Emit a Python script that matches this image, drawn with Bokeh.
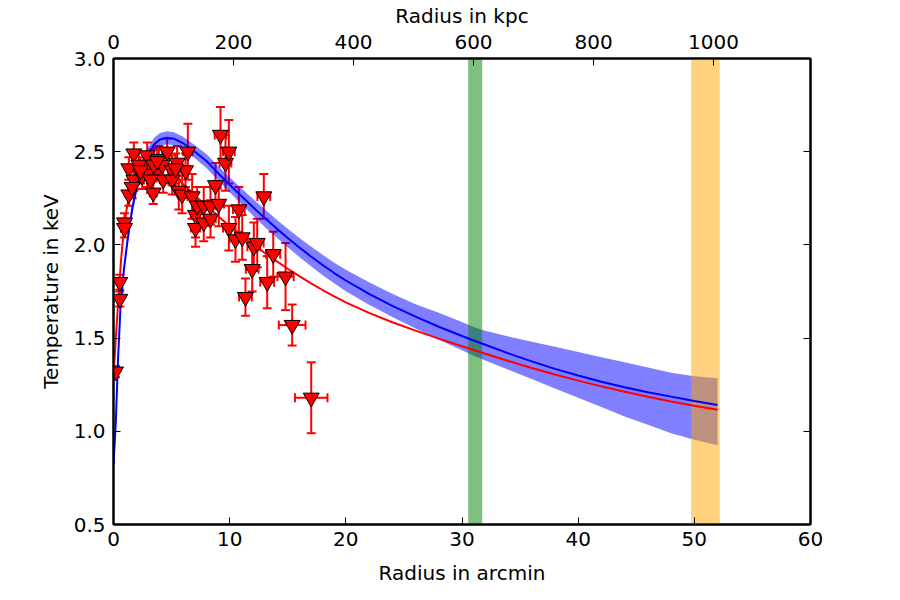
from bokeh.plotting import figure
from bokeh.models import (Range1d, LinearAxis, FixedTicker, ColumnDataSource,
                          Whisker, TeeHead, CustomJSTickFormatter)
from bokeh.embed import file_html
from bokeh.resources import INLINE

# ---------------- data ----------------
r_arcmin = [0.17, 0.54, 0.54, 0.95, 0.95, 1.32, 1.32, 1.75, 1.75, 2.18,
            2.47, 2.90, 2.90, 3.42, 3.47, 3.90, 4.19, 4.28, 4.62, 5.05,
            5.05, 5.48, 5.62, 5.91, 6.20, 6.40, 6.77, 7.06, 7.20, 7.06,
            7.77, 7.77, 8.35, 8.35, 8.78, 9.06, 9.21, 9.64, 9.93, 9.93,
            10.50, 10.79, 11.08, 12.08, 12.37, 11.94, 12.94, 11.36, 13.23, 13.75,
            14.81, 15.38, 17.02, 1.61, 2.32, 3.76, 5.34, 3.18]
temp_kev = [1.32, 1.80, 1.71, 2.12, 2.09, 2.27, 2.41, 2.49, 2.35, 2.43,
            2.37, 2.38, 2.48, 2.28, 2.43, 2.46, 2.43, 2.35, 2.50, 2.40,
            2.35, 2.44, 2.29, 2.27, 2.40, 2.50, 2.26, 2.16, 2.21, 2.09,
            2.12, 2.21, 2.21, 2.14, 2.32, 2.22, 2.59, 2.44, 2.50, 2.09,
            2.03, 2.19, 2.04, 1.99, 2.01, 1.87, 2.26, 1.72, 1.80, 1.95,
            1.83, 1.57, 1.18, 2.31, 2.40, 2.45, 2.41, 2.35]
r_err = [0.10, 0.15, 0.15, 0.20, 0.20, 0.25, 0.25, 0.30, 0.30, 0.30,
         0.30, 0.30, 0.30, 0.30, 0.30, 0.30, 0.30, 0.30, 0.30, 0.35,
         0.35, 0.35, 0.35, 0.35, 0.35, 0.40, 0.40, 0.40, 0.40, 0.40,
         0.40, 0.40, 0.45, 0.45, 0.45, 0.45, 0.50, 0.50, 0.50, 0.50,
         0.50, 0.50, 0.50, 0.55, 0.55, 0.55, 0.55, 0.55, 0.60, 0.60,
         0.70, 1.15, 1.40, 0.30, 0.30, 0.30, 0.35, 0.30]
t_err = [0.03, 0.04, 0.04, 0.05, 0.05, 0.06, 0.06, 0.06, 0.06, 0.07,
         0.07, 0.07, 0.07, 0.06, 0.08, 0.07, 0.08, 0.07, 0.07, 0.08,
         0.08, 0.09, 0.10, 0.10, 0.09, 0.15, 0.12, 0.12, 0.10, 0.10,
         0.10, 0.10, 0.10, 0.10, 0.12, 0.12, 0.15, 0.15, 0.17, 0.12,
         0.12, 0.12, 0.12, 0.13, 0.13, 0.12, 0.12, 0.10, 0.14, 0.12,
         0.18, 0.11, 0.19, 0.06, 0.07, 0.07, 0.08, 0.07]

# model curve with uncertainty band
model_r = [0.0, 0.2, 0.4, 0.6, 0.9, 1.2, 1.6, 2.0, 2.5, 3.0, 3.5, 4.0, 4.6,
           5.2, 6.0, 7.0, 8.0, 9.0, 10.0, 11.0, 12.0, 13.0, 14.0, 15.0, 16.0,
           17.0, 18.0, 19.0, 20.0, 22.0, 24.0, 26.0, 28.0, 30.0, 31.0, 32.0,
           34.0, 36.0, 38.0, 40.0, 42.0, 44.0, 46.0, 48.0, 50.0, 52.0]
model_t = [0.82, 1.05, 1.40, 1.66, 1.87, 2.02, 2.19, 2.31, 2.42, 2.49, 2.54,
           2.565, 2.575, 2.57, 2.545, 2.50, 2.45, 2.385, 2.323, 2.262, 2.203,
           2.145, 2.09, 2.037, 1.986, 1.938, 1.892, 1.849, 1.809, 1.737, 1.673,
           1.615, 1.561, 1.511, 1.487, 1.464, 1.418, 1.375, 1.335, 1.299,
           1.266, 1.236, 1.21, 1.186, 1.163, 1.141]
model_lo = [0.80, 1.03, 1.38, 1.635, 1.84, 1.99, 2.16, 2.28, 2.385, 2.455,
            2.505, 2.53, 2.54, 2.535, 2.51, 2.465, 2.413, 2.347, 2.283, 2.22,
            2.158, 2.098, 2.042, 1.987, 1.935, 1.886, 1.837, 1.794, 1.752,
            1.679, 1.613, 1.552, 1.491, 1.435, 1.405, 1.38, 1.33, 1.28, 1.23,
            1.18, 1.13, 1.08, 1.035, 0.99, 0.955, 0.925]
model_hi = [0.84, 1.07, 1.42, 1.685, 1.90, 2.05, 2.22, 2.34, 2.455, 2.525,
            2.575, 2.60, 2.61, 2.605, 2.58, 2.535, 2.487, 2.423, 2.363, 2.304,
            2.248, 2.192, 2.138, 2.087, 2.037, 1.991, 1.947, 1.904, 1.867,
            1.799, 1.738, 1.682, 1.636, 1.586, 1.56, 1.54, 1.508, 1.48, 1.453,
            1.425, 1.397, 1.37, 1.342, 1.314, 1.295, 1.285]

# fitted profile (red)
fit_r = [0.0, 0.2, 0.43, 0.65, 0.86, 1.1, 1.4, 1.7, 2.0, 2.5, 3.0, 3.5, 4.0,
         5.0, 6.0, 7.0, 8.0, 9.0, 10.0, 11.0, 12.0, 13.0, 14.0, 15.0, 16.0,
         17.0, 18.0, 19.0, 20.0, 22.0, 24.0, 26.0, 28.0, 30.0, 32.0, 34.0,
         36.0, 38.0, 40.0, 42.0, 44.0, 46.0, 48.0, 50.0, 52.0]
fit_t = [1.30, 1.50, 1.72, 1.92, 2.06, 2.18, 2.28, 2.35, 2.39, 2.43, 2.445,
         2.445, 2.43, 2.385, 2.325, 2.265, 2.21, 2.155, 2.10, 2.05, 2.003,
         1.958, 1.914, 1.872, 1.832, 1.794, 1.758, 1.724, 1.692, 1.635, 1.585,
         1.54, 1.497, 1.456, 1.416, 1.377, 1.34, 1.305, 1.272, 1.241, 1.212,
         1.185, 1.16, 1.137, 1.116]

green_band = [30.53, 31.74]
orange_band = [49.73, 52.19]

kpc_per_arcmin = 19.36
kpc_ticks = [0, 200, 400, 600, 800, 1000]
arcmin_ticks = [0, 10, 20, 30, 40, 50, 60]
kev_ticks = [0.5, 1.0, 1.5, 2.0, 2.5, 3.0]

FONT = "DejaVu Sans"
FS = "20px"

p = figure(width=900, height=600, output_backend="svg", toolbar_location=None,
           x_range=Range1d(0, 60), y_range=Range1d(0.5, 3.0),
           min_border_left=113, min_border_right=90, min_border_top=58,
           min_border_bottom=76)
p.extra_x_ranges = {"kpc": Range1d(0, 60 * kpc_per_arcmin)}
p.grid.visible = False
p.outline_line_color = "black"
p.outline_line_width = 2
p.background_fill_color = "white"
p.border_fill_color = "white"

def style_axis(ax):
    ax.major_tick_in = 7
    ax.major_tick_out = 0
    ax.minor_tick_line_color = None
    ax.major_tick_line_color = "black"
    ax.major_tick_line_width = 1
    ax.axis_line_color = "black"
    ax.axis_line_width = 2
    ax.major_label_text_font = FONT
    ax.major_label_text_font_size = FS
    ax.major_label_text_color = "black"
    ax.axis_label_text_font = FONT
    ax.axis_label_text_font_size = FS
    ax.axis_label_text_font_style = "normal"
    ax.axis_label_text_color = "black"

xa = p.xaxis[0]
xa.ticker = FixedTicker(ticks=arcmin_ticks)
xa.axis_label = "Radius in arcmin"
style_axis(xa)
xa.major_label_standoff = 7
xa.axis_label_standoff = 12

ya = p.yaxis[0]
ya.ticker = FixedTicker(ticks=kev_ticks)
ya.formatter = CustomJSTickFormatter(code="return tick.toFixed(1);")
ya.axis_label = "Temperature in keV"
style_axis(ya)
ya.major_label_standoff = 8
ya.axis_label_standoff = 8

top = LinearAxis(x_range_name="kpc", ticker=FixedTicker(ticks=kpc_ticks),
                 axis_label="Radius in kpc")
style_axis(top)
top.major_label_standoff = 10
top.axis_label_standoff = 4
p.add_layout(top, "above")

right = LinearAxis(ticker=FixedTicker(ticks=kev_ticks),
                   formatter=CustomJSTickFormatter(code="return '';"))
style_axis(right)
right.major_label_standoff = 0
p.add_layout(right, "right")

# model band
p.varea(x=model_r, y1=model_lo, y2=model_hi, fill_color="blue", fill_alpha=0.5)

# vertical bands
p.quad(left=[green_band[0]], right=[green_band[1]], bottom=[0.5], top=[3.0],
       fill_color="green", fill_alpha=0.5, line_color=None)
p.quad(left=[orange_band[0]], right=[orange_band[1]], bottom=[0.5], top=[3.0],
       fill_color="orange", fill_alpha=0.5, line_color=None)

# curves
p.line(model_r, model_t, line_color="blue", line_width=2)
p.line(fit_r, fit_t, line_color="red", line_width=2)

# data with errors
src = ColumnDataSource(dict(
    x=r_arcmin, y=temp_kev,
    yl=[t - e for t, e in zip(temp_kev, t_err)],
    yu=[t + e for t, e in zip(temp_kev, t_err)],
    xl=[r - e for r, e in zip(r_arcmin, r_err)],
    xu=[r + e for r, e in zip(r_arcmin, r_err)],
))
head = dict(size=9, line_color="red", line_width=2)
wy = Whisker(source=src, base="x", lower="yl", upper="yu", dimension="height",
             line_color="red", line_width=2,
             upper_head=TeeHead(**head), lower_head=TeeHead(**head))
wx = Whisker(source=src, base="y", lower="xl", upper="xu", dimension="width",
             line_color="red", line_width=2,
             upper_head=TeeHead(**head), lower_head=TeeHead(**head))
p.add_layout(wy)
p.add_layout(wx)
p.scatter("x", "y", source=src, marker="inverted_triangle", size=16,
          fill_color="red", line_color="black", line_width=1)

open("out.html", "w").write(file_html(p, INLINE))
